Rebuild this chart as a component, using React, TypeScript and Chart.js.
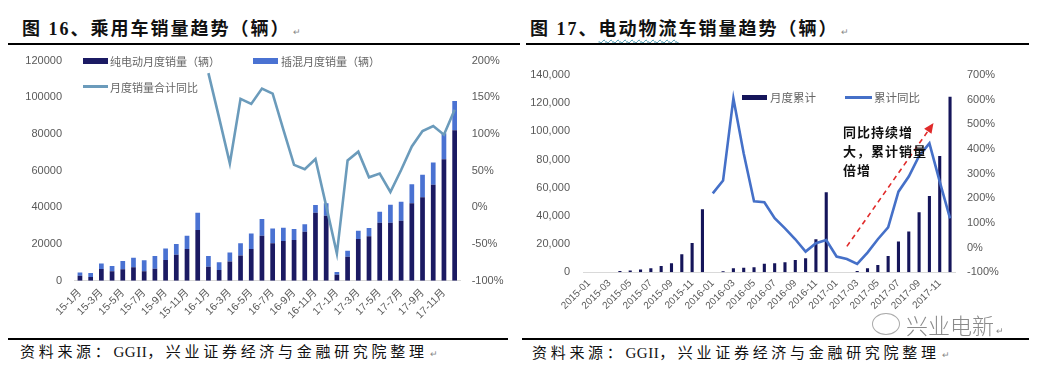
import React, { useEffect, useRef } from "react";
import { Chart, registerables } from "chart.js";
Chart.register(...registerables);

// ---------- Figure 16 data ----------
const leftMonths = [
  "15-1月", "15-2月", "15-3月", "15-4月", "15-5月", "15-6月", "15-7月", "15-8月", "15-9月", "15-10月", "15-11月", "15-12月",
  "16-1月", "16-2月", "16-3月", "16-4月", "16-5月", "16-6月", "16-7月", "16-8月", "16-9月", "16-10月", "16-11月", "16-12月",
  "17-1月", "17-2月", "17-3月", "17-4月", "17-5月", "17-6月", "17-7月", "17-8月", "17-9月", "17-10月", "17-11月", "17-12月",
];
const pureEV = [
  2700, 2000, 6400, 5100, 6200, 7300, 5100, 6500, 11300, 14200, 17300, 27600,
  7600, 5800, 10500, 13800, 17300, 24500, 20400, 21600, 22200, 26700, 37100, 35400,
  3300, 13100, 22700, 24200, 31600, 31600, 32700, 42200, 45500, 52400, 66300, 82000,
];
const phev = [
  1800, 2200, 3050, 2900, 4500, 5200, 6000, 6950, 6300, 5800, 7200, 9500,
  5850, 4200, 4950, 6600, 8500, 9100, 8100, 7300, 6000, 4100, 4200, 6800,
  1500, 3300, 4600, 4600, 6000, 9800, 10300, 10400, 12300, 12100, 14100, 16000,
];
const totalYoY = [
  null, null, null, null, null, null, null, null, null, null, null, null,
  183, 122, 60, 148, 141, 162, 155, 106, 58, 52, 66, 2,
  -63, 64, 76, 41, 46, 21, 51, 83, 104, 111, 99, 133,
];
const leftAxisMax = 120000;
const leftAxisStep = 20000;
const leftPctMin = -100;
const leftPctMax = 200;
const leftPctStep = 50;

// ---------- Figure 17 data ----------
const rightMonths = [
  "2015-01", "2015-02", "2015-03", "2015-04", "2015-05", "2015-06", "2015-07", "2015-08", "2015-09", "2015-10", "2015-11", "2015-12",
  "2016-01", "2016-02", "2016-03", "2016-04", "2016-05", "2016-06", "2016-07", "2016-08", "2016-09", "2016-10", "2016-11", "2016-12",
  "2017-01", "2017-02", "2017-03", "2017-04", "2017-05", "2017-06", "2017-07", "2017-08", "2017-09", "2017-10", "2017-11", "2017-12",
];
const logisticsMonthly = [
  0, 0, 0, 900, 1200, 1900, 2900, 4400, 6500, 12800, 20800, 44700,
  0, 700, 2800, 3300, 3500, 6100, 6400, 7100, 8700, 9900, 23400, 56800,
  0, 0, 900, 2800, 5200, 11600, 21800, 28900, 42600, 54200, 82500, 124600,
];
const logisticsYoY = [
  null, null, null, null, null, null, null, null, null, null, null, null,
  220, 272, 605, 382, 188, 184, 119, 78, 34, -16, 18, 31,
  -36, -46, -66, -20, 34, 82, 227, 288, 372, 423, 268, 119,
];
const rightAxisMax = 140000;
const rightAxisStep = 20000;
const rightPctMin = -100;
const rightPctMax = 700;
const rightPctStep = 100;
const arrowFrom = { index: 25, pct: 5 };
const arrowTo = { index: 33.4, pct: 505 };

const NAVY = "#1b1a63";
const BLUE = "#4a72d2";
const LINE_L = "#6b9bbb";
const NAVY_R = "#15155a";
const LINE_R = "#4570c8";
const RED = "#e02a2a";
const TICK = "#595959";
const TICK_FONT = '"Liberation Sans", "Noto Sans CJK SC", sans-serif';
const CJK = '"Liberation Serif", "Noto Sans CJK SC", serif';

const arrowPlugin = {
  id: "arrowNote",
  afterDatasetsDraw(chart: any) {
    const { ctx, scales } = chart;
    const xs = scales.x;
    const ys = scales.y1;
    const x0 = xs.getPixelForValue(arrowFrom.index);
    const y0 = ys.getPixelForValue(arrowFrom.pct);
    const x1 = xs.getPixelForValue(arrowTo.index);
    const y1 = ys.getPixelForValue(arrowTo.pct);
    const ang = Math.atan2(y1 - y0, x1 - x0);
    const head = 10;
    const bx = x1 - head * Math.cos(ang);
    const by = y1 - head * Math.sin(ang);
    ctx.save();
    ctx.strokeStyle = RED;
    ctx.lineWidth = 1.6;
    ctx.setLineDash([5, 4]);
    ctx.beginPath();
    ctx.moveTo(x0, y0);
    ctx.lineTo(bx, by);
    ctx.stroke();
    ctx.setLineDash([]);
    ctx.fillStyle = RED;
    ctx.beginPath();
    ctx.moveTo(x1, y1);
    ctx.lineTo(bx + 4.5 * Math.sin(ang), by - 4.5 * Math.cos(ang));
    ctx.lineTo(bx - 4.5 * Math.sin(ang), by + 4.5 * Math.cos(ang));
    ctx.closePath();
    ctx.fill();
    ctx.restore();
  },
};

function LeftChart() {
  const ref = useRef<HTMLCanvasElement>(null);
  useEffect(() => {
    if (!ref.current) return;
    const chart = new Chart(ref.current, {
      type: "bar",
      data: {
        labels: leftMonths,
        datasets: [
          {
            type: "line",
            label: "月度销量合计同比",
            data: totalYoY as any,
            yAxisID: "y1",
            borderColor: LINE_L,
            borderWidth: 2.6,
            pointRadius: 0,
            tension: 0,
            order: 0,
          } as any,
          {
            label: "纯电动月度销量（辆）",
            data: pureEV,
            backgroundColor: NAVY,
            stack: "s",
            yAxisID: "y",
            order: 1,
            categoryPercentage: 0.8,
            barPercentage: 0.55,
          },
          {
            label: "插混月度销量（辆）",
            data: phev,
            backgroundColor: BLUE,
            stack: "s",
            yAxisID: "y",
            order: 1,
            categoryPercentage: 0.8,
            barPercentage: 0.55,
          },
        ],
      },
      options: {
        responsive: false,
        animation: false,
        layout: { padding: { top: 20.7, left: 0, right: 0, bottom: 0 } },
        plugins: { legend: { display: false }, tooltip: { enabled: false } },
        scales: {
          x: {
            stacked: true,
            grid: { display: false, drawTicks: false },
            border: { color: "#d9d9d9" },
            ticks: {
              autoSkip: false,
              maxRotation: 45,
              minRotation: 45,
              padding: 6,
              color: TICK,
              font: { size: 10.5, family: TICK_FONT },
              callback: (_v: any, i: number) => (i % 2 === 0 ? leftMonths[i] : ""),
            },
            afterFit: (s: any) => {
              s.height = 59.3;
            },
          },
          y: {
            stacked: true,
            min: 0,
            max: leftAxisMax,
            grid: { display: false, drawTicks: false },
            border: { display: false },
            ticks: {
              stepSize: leftAxisStep,
              padding: 12.6,
              color: TICK,
              font: { size: 11, family: TICK_FONT },
              callback: (v: any) => String(v),
            },
            afterFit: (s: any) => {
              s.width = 74.6;
            },
          },
          y1: {
            position: "right",
            min: leftPctMin,
            max: leftPctMax,
            grid: { display: false, drawTicks: false },
            border: { display: false },
            ticks: {
              stepSize: leftPctStep,
              padding: 11.7,
              color: TICK,
              font: { size: 11, family: TICK_FONT },
              callback: (v: any) => v + "%",
            },
            afterFit: (s: any) => {
              s.width = 60;
            },
          },
        },
      } as any,
    });
    return () => chart.destroy();
  }, []);
  return (
    <canvas
      ref={ref}
      width={520}
      height={300}
      style={{ position: "absolute", left: 0, top: 40, width: 520, height: 300 }}
    />
  );
}

function RightChart() {
  const ref = useRef<HTMLCanvasElement>(null);
  useEffect(() => {
    if (!ref.current) return;
    const chart = new Chart(ref.current, {
      type: "bar",
      data: {
        labels: rightMonths,
        datasets: [
          {
            type: "line",
            label: "累计同比",
            data: logisticsYoY as any,
            yAxisID: "y1",
            borderColor: LINE_R,
            borderWidth: 2.6,
            pointRadius: 0,
            tension: 0,
            order: 0,
          } as any,
          {
            label: "月度累计",
            data: logisticsMonthly,
            backgroundColor: NAVY_R,
            yAxisID: "y",
            order: 1,
            categoryPercentage: 0.6,
            barPercentage: 0.5,
          },
        ],
      },
      options: {
        responsive: false,
        animation: false,
        layout: { padding: { top: 35, left: 0, right: 0, bottom: 0 } },
        plugins: { legend: { display: false }, tooltip: { enabled: false } },
        scales: {
          x: {
            grid: { display: false, drawTicks: false },
            border: { color: "#d9d9d9" },
            ticks: {
              autoSkip: false,
              maxRotation: 45,
              minRotation: 45,
              padding: 5,
              color: TICK,
              font: { size: 10, family: TICK_FONT },
              callback: (_v: any, i: number) => (i % 2 === 0 ? rightMonths[i] : ""),
            },
            afterFit: (s: any) => {
              s.height = 67.7;
            },
          },
          y: {
            min: 0,
            max: rightAxisMax,
            grid: { display: false, drawTicks: false },
            border: { display: false },
            ticks: {
              stepSize: rightAxisStep,
              padding: 13.8,
              color: TICK,
              font: { size: 11, family: TICK_FONT },
              callback: (v: any) => Number(v).toLocaleString("en-US"),
            },
            afterFit: (s: any) => {
              s.width = 63.8;
            },
          },
          y1: {
            position: "right",
            min: rightPctMin,
            max: rightPctMax,
            grid: { display: false, drawTicks: false },
            border: { display: false },
            ticks: {
              stepSize: rightPctStep,
              padding: 11.8,
              color: TICK,
              font: { size: 11, family: TICK_FONT },
              callback: (v: any) => v + "%",
            },
            afterFit: (s: any) => {
              s.width = 84.8;
            },
          },
        },
      } as any,
      plugins: [arrowPlugin],
    });
    return () => chart.destroy();
  }, []);
  return (
    <canvas
      ref={ref}
      width={520}
      height={300}
      style={{ position: "absolute", left: 520, top: 40, width: 520, height: 300 }}
    />
  );
}

const abs = (s: React.CSSProperties): React.CSSProperties => ({ position: "absolute", ...s });
const mark: React.CSSProperties = { fontSize: 9, color: "#888", fontWeight: 400, letterSpacing: 0, marginLeft: 2 };
const latin: React.CSSProperties = { letterSpacing: 0.5 };

export default function App() {
  const legendText: React.CSSProperties = {
    fontFamily: '"Noto Sans CJK SC", sans-serif',
    fontSize: 11,
    color: "#666",
    lineHeight: "14px",
    whiteSpace: "nowrap",
  };
  const titleStyle: React.CSSProperties = {
    fontFamily: CJK,
    fontWeight: 700,
    fontSize: 18,
    letterSpacing: 2,
    color: "#111",
    lineHeight: "22px",
    whiteSpace: "nowrap",
  };
  const srcStyle: React.CSSProperties = {
    fontFamily: CJK,
    fontSize: 15,
    letterSpacing: 3.7,
    color: "#111",
    lineHeight: "18px",
    whiteSpace: "nowrap",
  };
  return (
    <div
      style={{
        position: "fixed",
        left: 0,
        top: 0,
        width: 1040,
        height: 369,
        background: "#fff",
        overflow: "hidden",
      }}
    >
      {/* titles */}
      <div style={abs({ left: 22, top: 18, ...titleStyle })}>
        图 16、乘用车销量趋势（辆）<span style={mark}>↵</span>
      </div>
      <div style={abs({ left: 530, top: 18, ...titleStyle })}>
        图 17、
        <span style={{ textDecoration: "underline wavy #3a8fa8", textDecorationThickness: 1, textUnderlineOffset: 4 }}>
          电动物流
        </span>
        车销量趋势（辆）<span style={mark}>↵</span>
      </div>
      <div style={abs({ left: 8, top: 42.5, width: 512, height: 2.6, background: "#000" })} />
      <div style={abs({ left: 526, top: 42.5, width: 503, height: 2.6, background: "#000" })} />

      <LeftChart />
      <RightChart />

      {/* left legend */}
      <div style={abs({ left: 83, top: 58, width: 25, height: 6, background: NAVY })} />
      <div style={abs({ left: 110, top: 54, ...legendText })}>纯电动月度销量（辆）</div>
      <div style={abs({ left: 253, top: 58, width: 25, height: 6, background: BLUE })} />
      <div style={abs({ left: 281, top: 54, ...legendText })}>插混月度销量（辆）</div>
      <div style={abs({ left: 83, top: 85, width: 25, height: 3, background: LINE_L })} />
      <div style={abs({ left: 110, top: 80, ...legendText })}>月度销量合计同比</div>

      {/* right legend */}
      <div style={abs({ left: 742, top: 94.5, width: 25, height: 5.5, background: NAVY_R })} />
      <div style={abs({ left: 770, top: 90, ...legendText, fontSize: 11.5 })}>月度累计</div>
      <div style={abs({ left: 845, top: 95.5, width: 27, height: 3, background: LINE_R })} />
      <div style={abs({ left: 874, top: 90, ...legendText, fontSize: 11.5 })}>累计同比</div>

      {/* annotation */}
      <div
        style={abs({
          left: 843,
          top: 122,
          fontFamily: '"Noto Sans CJK SC", sans-serif',
          fontWeight: 700,
          fontSize: 13,
          letterSpacing: 1,
          lineHeight: "19px",
          color: "#111",
          whiteSpace: "nowrap",
        })}
      >
        同比持续增
        <br />
        大，累计销量
        <br />
        倍增
      </div>

      {/* watermark */}
      <div
        style={abs({
          left: 872,
          top: 313,
          width: 26,
          height: 20,
          border: "1.2px solid #aaa",
          borderRadius: "50%",
        })}
      />
      <div
        style={abs({
          left: 906,
          top: 308,
          fontFamily: '"Noto Sans CJK SC", sans-serif',
          fontWeight: 300,
          fontSize: 22,
          color: "#8a8a8a",
          whiteSpace: "nowrap",
        })}
      >
        兴业电新<span style={{ ...mark, fontSize: 9 }}>↵</span>
      </div>

      {/* bottom rules and sources */}
      <div style={abs({ left: 8, top: 337.7, width: 500, height: 2.6, background: "#000" })} />
      <div style={abs({ left: 522, top: 337.7, width: 507, height: 2.6, background: "#000" })} />
      <div style={abs({ left: 20, top: 343, ...srcStyle })}>
        资料来源：<span style={latin}>GGII</span>，兴业证券经济与金融研究院整理<span style={mark}>↵</span>
      </div>
      <div style={abs({ left: 532, top: 344, ...srcStyle })}>
        资料来源：<span style={latin}>GGII</span>，兴业证券经济与金融研究院整理<span style={mark}>↵</span>
      </div>
    </div>
  );
}
